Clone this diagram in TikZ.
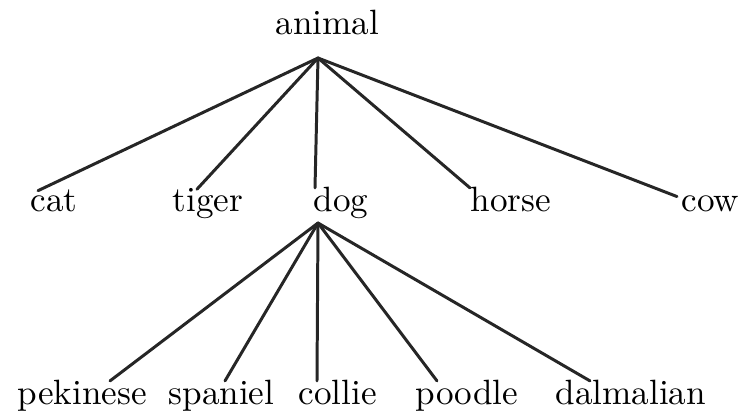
\documentclass[tikz,border=0pt]{standalone}
\usepackage{tikz}
\usetikzlibrary{calc}
\tikzset{
  word/.style={anchor=base west, inner sep=0pt, font=\fontsize{10}{12}\selectfont},
  branch/.style={line width=0.85pt, draw=black!85, line cap=round}
}

\begin{document}
\begin{tikzpicture}[x=0.1mm, y=-0.1mm]
  \useasboundingbox (0,0) rectangle (746,412);
  % root
  \node[word] (animal) at (275,34) {animal};
  \coordinate (top) at (318,58);
  % first level
  \node[word] (cat) at (30,211) {cat};
  \node[word] (tiger) at (172,211) {tiger};
  \node[word] (dog) at (313,211) {dog};
  \node[word] (horse) at (470,211) {horse};
  \node[word] (cow) at (681,211) {cow};
  \foreach \n/\dx in {cat/8, tiger/25, dog/2, horse/0, cow/-4}
    \draw[branch] (top) -- ($(\n.north west)+(\dx,2)$);
  % second level
  \coordinate (mid) at (318,223);
  \node[word] (pekinese) at (17,404) {pekinese};
  \node[word] (spaniel) at (168,404) {spaniel};
  \node[word] (collie) at (298,404) {collie};
  \node[word] (poodle) at (415,404) {poodle};
  \node[word] (dalmalian) at (555,404) {dalmalian};
  \foreach \n/\dx in {pekinese/93, spaniel/57, collie/19, poodle/22, dalmalian/35}
    \draw[branch] (mid) -- ($(\n.north west)+(\dx,2)$);
\end{tikzpicture}
\end{document}
